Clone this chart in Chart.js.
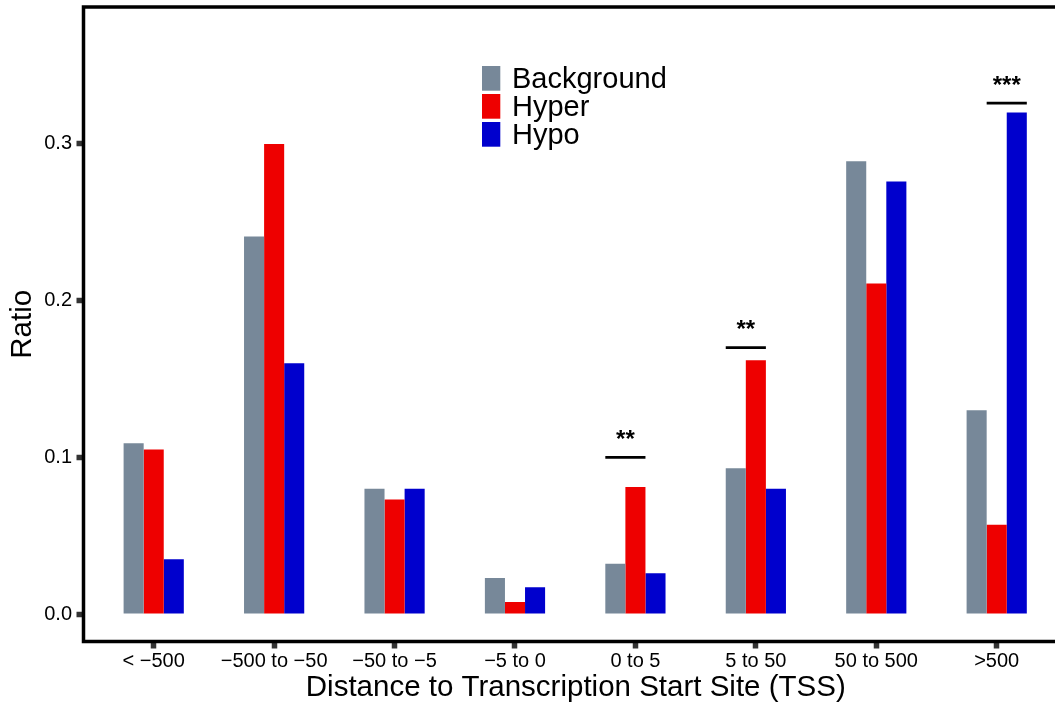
<!DOCTYPE html>
<html>
<head>
<meta charset="utf-8">
<script src="https://cdn.jsdelivr.net/npm/chart.js@4.4.1/dist/chart.umd.min.js"></script>
<style>
  html, body { margin: 0; padding: 0; background: #fff; }
  #wrap { width: 1055px; height: 706px; overflow: hidden; }
</style>
</head>
<body>
<div id="wrap"><canvas id="myChart" width="1070" height="706"></canvas></div>
<script>
const categories = ["< \u2212500", "\u2212500 to \u221250", "\u221250 to \u22125", "\u22125 to 0", "0 to 5", "5 to 50", "50 to 500", ">500"];
const background = [0.109, 0.241, 0.080, 0.023, 0.032, 0.093, 0.289, 0.130];
const hyper = [0.105, 0.300, 0.073, 0.0076, 0.081, 0.162, 0.211, 0.057];
const hypo = [0.035, 0.160, 0.080, 0.017, 0.026, 0.080, 0.276, 0.320];
const yTicks = [0, 0.1, 0.2, 0.3];

// significance marks: category index, the two bars (dataset index) the line spans, line height, label
const sigCategory = [4, 5, 7];
const sigFrom = [0, 0, 1];
const sigTo = [1, 1, 2];
const sigLevel = [0.1, 0.17, 0.326];
const sigLabel = ["**", "**", "***"];

const FONT = '"Liberation Sans", Arial, Helvetica, sans-serif';

const toPoints = (arr) => arr.map((v, i) => ({ x: i + 1, y: v }));

// black frame round the panel (right side is off the picture)
const framePlugin = {
  id: "frame",
  afterDraw(chart) {
    const { ctx, chartArea: a } = chart;
    ctx.save();
    ctx.strokeStyle = "#000";
    ctx.lineWidth = 3.5;
    ctx.strokeRect(a.left, a.top, a.right - a.left, a.bottom - a.top);
    ctx.restore();
  }
};

// legend sits inside the panel
const legendPlugin = {
  id: "innerLegend",
  afterDraw(chart) {
    const ctx = chart.ctx;
    ctx.save();
    ctx.font = "29px " + FONT;
    ctx.textBaseline = "middle";
    chart.data.datasets.forEach((ds, i) => {
      const top = 66 + i * 28;
      ctx.fillStyle = ds.backgroundColor;
      ctx.fillRect(482, top, 18.3, 24.7);
      ctx.fillStyle = "#000";
      ctx.fillText(ds.label, 512, top + 13.5);
    });
    ctx.restore();
  }
};

// brackets with stars over the significant pairs
const sigPlugin = {
  id: "sig",
  afterDatasetsDraw(chart) {
    const ctx = chart.ctx;
    const y = chart.scales.y;
    ctx.save();
    sigCategory.forEach((c, k) => {
      const a = chart.getDatasetMeta(sigFrom[k]).data[c];
      const b = chart.getDatasetMeta(sigTo[k]).data[c];
      const x1 = a.x - a.width / 2;
      const x2 = b.x + b.width / 2;
      const py = y.getPixelForValue(sigLevel[k]);
      ctx.strokeStyle = "#000";
      ctx.lineWidth = 2.8;
      ctx.beginPath();
      ctx.moveTo(x1, py);
      ctx.lineTo(x2, py);
      ctx.stroke();
      ctx.fillStyle = "#000";
      ctx.font = "bold 24px " + FONT;
      ctx.textAlign = "center";
      ctx.textBaseline = "middle";
      ctx.fillText(sigLabel[k], (x1 + x2) / 2, py - 17);
    });
    ctx.restore();
  }
};

// keep the scales from pushing the panel edges in for half-label room
const noPad = (s) => { s.paddingTop = 0; s.paddingBottom = 0; s.paddingLeft = 0; s.paddingRight = 0; };

new Chart(document.getElementById("myChart"), {
  type: "bar",
  data: {
    datasets: [
      { label: "Background", data: toPoints(background), backgroundColor: "#778899" },
      { label: "Hyper", data: toPoints(hyper), backgroundColor: "#EE0000" },
      { label: "Hypo", data: toPoints(hypo), backgroundColor: "#0000CD" }
    ]
  },
  options: {
    responsive: false,
    animation: false,
    devicePixelRatio: 1,
    layout: { padding: { left: 0, right: 2, top: 7, bottom: 0 } },
    datasets: { bar: { categoryPercentage: 0.5, barPercentage: 1, borderWidth: 0 } },
    plugins: { legend: { display: false }, tooltip: { enabled: false } },
    scales: {
      x: {
        type: "linear",
        offset: false,
        min: 0.417,
        max: 8.592,
        afterBuildTicks: (s) => { s.ticks = categories.map((c, i) => ({ value: i + 1 })); },
        afterFit: (s) => { s.height = 64.5; noPad(s); },
        ticks: {
          autoSkip: false,
          maxRotation: 0,
          padding: 1,
          color: "#000",
          font: { family: FONT, size: 20 },
          callback: (v) => categories[v - 1]
        },
        grid: { offset: false, drawOnChartArea: false, tickLength: 7, tickWidth: 5.5, tickColor: "#333" },
        border: { display: false },
        title: {
          display: true,
          text: "Distance to Transcription Start Site (TSS)",
          color: "#000",
          font: { family: FONT, size: 29.5 },
          padding: { top: 0, bottom: 0 }
        }
      },
      y: {
        min: -0.01755,
        max: 0.3874,
        afterBuildTicks: (s) => { s.ticks = yTicks.map((v) => ({ value: v })); },
        afterFit: (s) => { s.width = 83.5; noPad(s); },
        ticks: {
          padding: 4.5,
          color: "#000",
          font: { family: FONT, size: 20 },
          callback: (v) => v.toFixed(1)
        },
        grid: { drawOnChartArea: false, tickLength: 7, tickWidth: 5.5, tickColor: "#333" },
        border: { display: false },
        title: {
          display: true,
          text: "Ratio",
          color: "#000",
          font: { family: FONT, size: 29.5 },
          padding: { top: 5, bottom: 0 }
        }
      }
    }
  },
  plugins: [framePlugin, legendPlugin, sigPlugin]
});
</script>
</body>
</html>
